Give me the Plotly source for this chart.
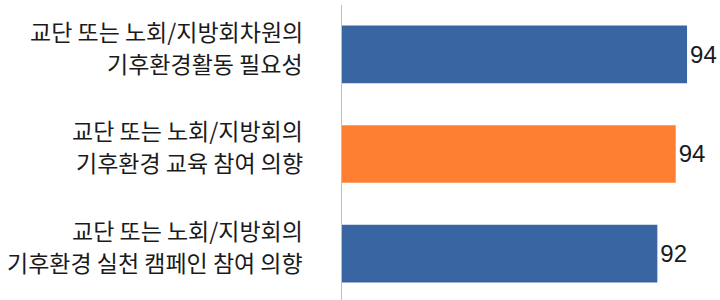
import plotly.graph_objects as go

line1 = ["교단 또는 노회/지방회차원의", "교단 또는 노회/지방회의", "교단 또는 노회/지방회의"]
line2 = ["기후환경활동 필요성", "기후환경 교육 참여 의향", "기후환경 실천 캠페인 참여 의향"]
values = [94.4, 93.6, 92.3]
labels = ["94", "94", "92"]
colors = ["#3966A2", "#FE7F32", "#3966A2"]

idx = list(range(len(values)))

fig = go.Figure(go.Bar(
    x=values, y=idx, orientation="h",
    marker=dict(color=colors, line=dict(width=0)),
    width=0.58,
    text=labels, textposition="outside", cliponaxis=False,
    constraintext="none",
    textfont=dict(family="Liberation Sans, Arial, sans-serif", size=24, color="#1a1a1a"),
    hoverinfo="skip",
))

annotations = []
for i in idx:
    annotations.append(dict(x=0, xref="paper", y=i, yref="y", text=line1[i],
                            xanchor="right", yanchor="middle", xshift=-37, yshift=23.5,
                            showarrow=False,
                            font=dict(family="Noto Sans CJK KR", size=23, color="#1a1a1a")))
    annotations.append(dict(x=0, xref="paper", y=i, yref="y", text=line2[i],
                            xanchor="right", yanchor="middle", xshift=-37, yshift=-8.5,
                            showarrow=False,
                            font=dict(family="Noto Sans CJK KR", size=23, color="#1a1a1a")))

fig.update_layout(
    width=720, height=300,
    margin=dict(l=342, r=0, t=5, b=0),
    paper_bgcolor="white", plot_bgcolor="white",
    showlegend=False,
    xaxis=dict(range=[70, 96.73], visible=False, showgrid=False, zeroline=False),
    yaxis=dict(range=[2.467, -0.497], showticklabels=False, showgrid=False, zeroline=False,
               showline=True, linecolor="#BFBFBF", linewidth=1.5, ticks=""),
    annotations=annotations,
)

fig.write_html(
    "out.html",
    config={"displayModeBar": False, "staticPlot": True},
    post_script="document.body.style.margin='0';document.body.style.overflow='hidden';",
)
